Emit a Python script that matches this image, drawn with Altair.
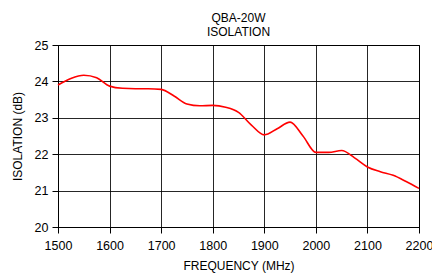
import altair as alt
import pandas as pd

freq = [1500, 1525, 1550, 1575, 1600, 1625, 1650, 1675, 1700, 1725, 1750, 1775,
        1800, 1825, 1850, 1875, 1900, 1925, 1950, 1975, 2000, 2025, 2050, 2075,
        2100, 2125, 2150, 2175, 2200]
isolation = [23.90, 24.08, 24.17, 24.10, 23.87, 23.81, 23.80, 23.80, 23.78, 23.60,
             23.38, 23.33, 23.34, 23.29, 23.15, 22.80, 22.53, 22.70, 22.88, 22.50,
             22.05, 22.05, 22.10, 21.90, 21.65, 21.52, 21.42, 21.25, 21.06]
x_ticks = [1500, 1600, 1700, 1800, 1900, 2000, 2100, 2200]
y_ticks = [20, 21, 22, 23, 24, 25]

df = pd.DataFrame({"freq": freq, "iso": isolation})

FONT = "Liberation Sans"

chart = alt.Chart(df).mark_line(
    color="#ff0000", strokeWidth=1.6, interpolate="monotone"
).encode(
    x=alt.X("freq:Q", scale=alt.Scale(domain=[1500, 2200], nice=False, zero=False),
            axis=alt.Axis(values=x_ticks, title="FREQUENCY (MHz)", format="d",
                          labelPadding=6, titlePadding=9, labelFlush=False)),
    y=alt.Y("iso:Q", scale=alt.Scale(domain=[20, 25], nice=False, zero=False),
            axis=alt.Axis(values=y_ticks, title="ISOLATION (dB)",
                          labelPadding=4, titlePadding=10, labelFlush=False)),
).properties(
    width=361, height=182,
    autosize="none",
    background="white",
    padding={"left": 50, "top": 37, "right": 13, "bottom": 47},
    title=alt.TitleParams(["QBA-20W", "ISOLATION"], anchor="middle", fontSize=12,
                          fontWeight="normal", font=FONT, color="#000000",
                          offset=0, lineHeight=14),
).configure_view(
    stroke="#000000", strokeWidth=1
).configure_axis(
    grid=True, gridColor="#000000", gridOpacity=0.85, gridWidth=1,
    domainColor="#000000", tickColor="#000000", tickSize=6,
    labelFont=FONT, labelFontSize=12.5, labelColor="#000000",
    titleFont=FONT, titleFontSize=12, titleFontWeight="normal", titleColor="#000000",
)

chart.save("out.html", embed_options={"renderer": "svg", "actions": False})
